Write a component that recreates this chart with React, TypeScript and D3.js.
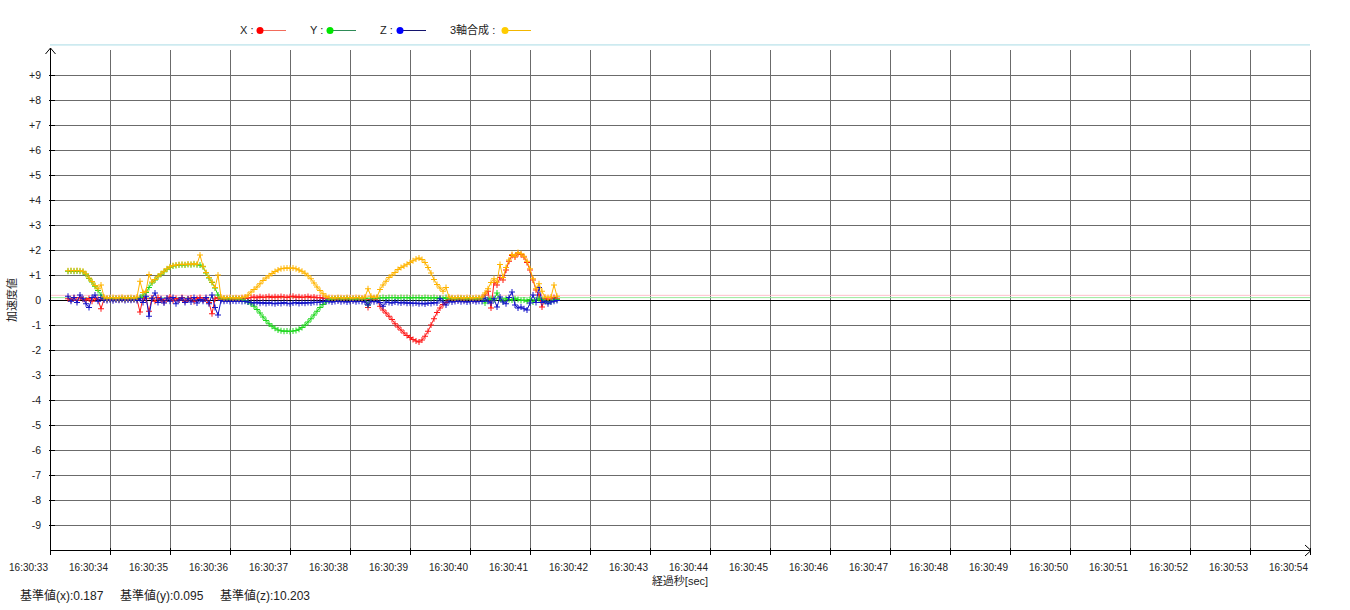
import React from 'react';
import * as d3 from 'd3';

const W = 1350;
const H = 610;

const xTickLabels = ['16:30:33','16:30:34','16:30:35','16:30:36','16:30:37','16:30:38','16:30:39','16:30:40','16:30:41','16:30:42','16:30:43','16:30:44','16:30:45','16:30:46','16:30:47','16:30:48','16:30:49','16:30:50','16:30:51','16:30:52','16:30:53','16:30:54'];
const yTickValues = [-9,-8,-7,-6,-5,-4,-3,-2,-1,0,1,2,3,4,5,6,7,8,9];

const baseValues = [
  { name: 'x', value: 0.187, label: '0.187', color: '#ffc0cb' },
  { name: 'y', value: 0.095, label: '0.095', color: '#9be89b' },
  { name: 'z', value: 10.203, label: '10.203', color: '#a8dbe6' },
];

// samples every 50 ms starting at 16:30:33.300
const sampleStartSec = 33.3;
const sampleStepSec = 0.05;

const xValues = [
  0.05,0.0,0.08,-0.02,0.1,0.03,0.0,0.06,-0.05,0.08,0.02,-0.35,
  0.03,0.02,0.04,0.02,0.03,0.01,0.03,0.02,0.04,0.02,0.03,0.02,
  -0.48,0.1,0.05,-0.45,
  0.08,-0.05,0.1,0.02,-0.08,0.05,0.12,-0.03,0.06,0.0,0.1,-0.05,0.04,0.08,-0.06,0.05,0.1,0.0,
  0.05,-0.1,-0.55,0.05,0.1,
  0.03,0.02,0.04,0.02,0.03,0.05,0.04,0.06,
  0.06,0.08,0.1,0.12,0.09,0.13,0.1,0.12,0.14,0.1,0.13,0.11,0.14,0.12,0.1,0.13,0.15,0.11,0.13,0.1,0.12,0.14,0.1,0.12,0.09,0.1,0.07,0.05,
  0.03,0.02,0.04,0.02,0.03,0.02,0.04,0.03,0.02,0.03,0.04,0.02,0.03,-0.3,0.02,0.03,0.05,
  -0.25,-0.4,-0.52,-0.65,-0.78,-0.95,-1.08,-1.2,-1.32,-1.42,-1.5,-1.58,-1.64,-1.68,-1.6,-1.45,-1.25,-1.0,-0.75,-0.5,-0.32,-0.18,-0.1,
  0.02,0.03,0.01,0.02,0.03,0.01,0.02,0.03,0.02,0.01,0.03,0.05,
  0.2,0.35,-0.32,0.7,0.6,0.9,0.8,1.2,1.55,1.78,1.72,1.85,1.82,1.72,1.5,1.2,0.8,0.4,0.2,
  -0.28,0.05,0.02,0.04,0.1,0.05,
];

const yValues = [
  1.15,1.16,1.15,1.16,1.15,1.13,
  1.03,0.86,0.72,0.55,0.38,0.2,
  0.06,0.05,0.07,0.05,0.06,0.04,0.06,0.05,0.07,0.05,0.06,0.05,
  0.1,0.2,0.3,0.5,
  0.68,0.8,0.93,1.03,1.13,1.23,1.31,1.36,1.38,1.40,1.41,1.40,1.42,1.41,1.43,1.41,1.4,1.33,
  1.08,0.88,0.7,0.48,0.2,
  0.05,0.06,0.04,0.05,0.06,0.05,0.04,0.03,
  -0.02,-0.08,-0.15,-0.25,-0.38,-0.52,-0.68,-0.82,-0.95,-1.05,-1.13,-1.2,-1.23,-1.25,-1.24,-1.26,-1.24,-1.22,-1.17,-1.1,-1.0,-0.88,-0.75,-0.6,-0.45,-0.3,-0.18,-0.08,
  0.02,0.04,0.05,0.06,0.04,0.05,0.06,0.04,0.05,0.03,0.05,0.04,0.06,-0.2,0.05,0.06,0.08,
  0.08,0.1,0.08,0.1,0.09,0.1,0.08,0.1,0.09,0.1,0.08,0.1,0.09,0.1,0.08,0.1,0.09,0.08,0.1,0.07,0.08,0.06,0.1,
  0.05,0.06,0.04,0.05,0.06,0.05,0.04,0.06,0.05,0.04,0.06,0.05,
  -0.12,0.02,0.05,0.0,0.28,0.05,-0.05,0.05,0.02,0.0,0.05,0.02,-0.02,0.0,-0.05,0.02,-0.08,0.0,0.05,
  0.02,-0.05,-0.08,-0.06,0.0,0.02,
];

const zValues = [
  0.15,-0.05,0.1,-0.1,0.2,0.05,-0.15,-0.3,0.1,0.2,-0.05,0.1,
  0.0,-0.02,0.01,-0.03,0.0,-0.01,0.02,-0.02,0.0,-0.01,0.01,-0.02,
  0.05,-0.1,0.15,-0.65,
  0.05,0.28,-0.1,0.05,-0.12,0.08,-0.05,0.1,-0.15,0.0,0.08,-0.1,0.05,-0.08,0.1,-0.12,0.02,-0.05,
  0.1,-0.15,0.2,-0.3,-0.6,
  -0.02,-0.05,-0.03,-0.06,-0.04,-0.05,-0.03,-0.06,
  -0.05,-0.08,-0.1,-0.12,-0.09,-0.13,-0.1,-0.14,-0.11,-0.13,-0.15,-0.12,-0.14,-0.1,-0.13,-0.15,-0.12,-0.1,-0.14,-0.11,-0.13,-0.1,-0.12,-0.09,-0.1,-0.08,-0.06,-0.05,
  -0.05,-0.08,-0.06,-0.04,-0.07,-0.05,-0.08,-0.06,-0.04,-0.07,-0.05,-0.06,-0.08,-0.2,-0.05,-0.07,-0.05,
  -0.1,-0.25,-0.08,-0.1,-0.12,-0.08,-0.1,-0.12,-0.09,-0.13,-0.11,-0.14,-0.12,-0.15,-0.13,-0.16,-0.12,-0.14,-0.1,-0.12,0.05,-0.08,-0.2,
  -0.05,-0.08,-0.06,-0.04,-0.07,-0.05,-0.08,-0.06,-0.04,-0.07,-0.05,-0.06,
  0.08,-0.05,-0.12,0.05,-0.28,0.12,-0.08,-0.15,0.1,0.32,-0.2,-0.32,-0.28,-0.35,-0.4,-0.12,0.2,-0.1,0.5,
  -0.1,-0.05,-0.15,-0.08,-0.05,-0.02,
];

const sumValues = [
  1.17,1.18,1.17,1.18,1.17,1.15,
  1.05,0.88,0.74,0.58,0.45,0.6,
  0.12,0.08,0.09,0.10,0.08,0.09,0.11,0.08,0.09,0.10,0.08,0.12,
  0.75,0.3,0.35,1.02,
  0.72,0.82,0.95,1.05,1.15,1.25,1.33,1.38,1.40,1.42,1.43,1.42,1.44,1.43,1.45,1.43,1.8,1.35,
  1.1,0.9,0.72,0.5,1.0,
  0.12,0.08,0.09,0.10,0.08,0.09,0.08,0.10,
  0.12,0.2,0.32,0.42,0.52,0.65,0.78,0.88,0.97,1.06,1.14,1.2,1.25,1.27,1.28,1.27,1.28,1.25,1.2,1.15,1.07,0.97,0.85,0.68,0.52,0.38,0.25,0.15,
  0.10,0.09,0.08,0.10,0.09,0.08,0.10,0.09,0.08,0.10,0.09,0.08,0.12,0.45,0.15,0.10,0.12,
  0.42,0.6,0.75,0.9,1.0,1.1,1.22,1.3,1.36,1.43,1.5,1.57,1.64,1.68,1.62,1.5,1.3,1.08,0.82,0.62,0.48,0.35,0.5,
  0.12,0.09,0.08,0.10,0.09,0.08,0.10,0.09,0.08,0.10,0.09,0.12,
  0.28,0.45,0.7,0.85,0.72,1.42,0.9,1.3,1.6,1.82,1.75,1.9,1.85,1.75,1.55,1.25,0.85,0.45,0.65,
  0.35,0.12,0.1,0.12,0.6,0.15,
];

const series = [
  { name: 'X', values: xValues, color: '#ff1a1a', legendLine: '#f26b5b', legendDot: '#ff0000', labelX: 240, dotX: 260 },
  { name: 'Y', values: yValues, color: '#1fd81f', legendLine: '#2e8b57', legendDot: '#00e600', labelX: 310, dotX: 330 },
  { name: 'Z', values: zValues, color: '#1414c8', legendLine: '#14146e', legendDot: '#0000ff', labelX: 380, dotX: 400 },
  { name: '3軸合成', values: sumValues, color: '#ffb400', legendLine: '#f2b600', legendDot: '#ffcc00', labelX: 450, dotX: 505 },
];

const FONT = '"Liberation Sans", Arial, "Noto Sans CJK JP", sans-serif';

export default function App() {
  const left = 50, right = 1310, top = 50, bottom = 550;
  const x = d3.scaleLinear().domain([33, 54]).range([left, right]);
  const y = d3.scaleLinear().domain([-10, 10]).range([bottom, top]);
  const xTicks = d3.range(xTickLabels.length).map((i) => 33 + i);

  const line = d3.line<number>()
    .x((_, i) => x(sampleStartSec + i * sampleStepSec))
    .y((d) => y(d));

  const crossPath = (vals: number[]) => {
    const p = d3.path();
    vals.forEach((v, i) => {
      const px = x(sampleStartSec + i * sampleStepSec);
      const py = y(v);
      p.moveTo(px - 3, py);
      p.lineTo(px + 3, py);
      p.moveTo(px, py - 3);
      p.lineTo(px, py + 3);
    });
    return p.toString();
  };

  return (
    <svg width={W} height={H} style={{ position: 'absolute', left: 0, top: 0, background: '#fff' }} fontFamily={FONT}>
      <rect x={0} y={0} width={W} height={H} fill="#fff" />
      {/* legend */}
      {series.map((s) => (
        <g key={s.name}>
          <text x={s.labelX} y={33.5} fontSize={11} fill="#222">{s.name} :</text>
          <line x1={s.dotX} x2={s.dotX + 26} y1={30.5} y2={30.5} stroke={s.legendLine} strokeWidth={1} />
          <circle cx={s.dotX} cy={30.5} r={3.5} fill={s.legendDot} />
        </g>
      ))}
      {/* vertical grid */}
      {xTicks.slice(1).map((t) => (
        <line key={'vg' + t} x1={x(t) + 0.5} x2={x(t) + 0.5} y1={top} y2={bottom} stroke="#6b6b6b" strokeWidth={1} />
      ))}
      {/* horizontal grid */}
      {yTickValues.map((v) => (
        <line key={'hg' + v} x1={left} x2={right} y1={y(v) + 0.5} y2={y(v) + 0.5} stroke={v === 0 ? '#000' : '#6b6b6b'} strokeWidth={1} />
      ))}
      {/* base value reference lines */}
      {baseValues.map((b) => (
        <line key={'b' + b.name} x1={left} x2={right} y1={y(b.value)} y2={y(b.value)} stroke={b.color} strokeWidth={1} />
      ))}
      {/* axes */}
      <line x1={left + 0.5} x2={left + 0.5} y1={top - 2} y2={bottom} stroke="#000" strokeWidth={1} />
      <path d={`M${left - 4.5},${top + 4} L${left + 0.5},${top - 2} L${left + 5.5},${top + 4}`} fill="none" stroke="#000" strokeWidth={1} />
      <line x1={left} x2={right + 1} y1={bottom + 0.5} y2={bottom + 0.5} stroke="#000" strokeWidth={1} />
      <path d={`M${right - 5},${bottom - 5} L${right + 1},${bottom + 0.5} L${right - 5},${bottom + 6}`} fill="none" stroke="#000" strokeWidth={1} />
      {yTickValues.map((v) => (
        <g key={'yt' + v}>
          <line x1={left - 1} x2={left + 5} y1={y(v) + 0.5} y2={y(v) + 0.5} stroke="#000" strokeWidth={1} />
          <text x={41} y={y(v) + 4} fontSize={10.5} textAnchor="end" fill="#222">{v > 0 ? '+' + v : String(v)}</text>
        </g>
      ))}
      {xTicks.map((t, i) => (
        <g key={'xt' + t}>
          <line x1={x(t) + 0.5} x2={x(t) + 0.5} y1={bottom - 2} y2={bottom + 5} stroke="#000" strokeWidth={1} />
          <text x={x(t) - 2} y={571} fontSize={10} textAnchor="end" fill="#222">{xTickLabels[i]}</text>
        </g>
      ))}
      <text x={(left + right) / 2} y={585} fontSize={11} textAnchor="middle" fill="#222">経過秒[sec]</text>
      <text transform={`translate(16,${y(0)}) rotate(-90)`} fontSize={11} textAnchor="middle" fill="#222">加速度値</text>
      {/* data */}
      {series.map((s) => (
        <g key={'s' + s.name}>
          <path d={line(s.values) || ''} fill="none" stroke={s.color} strokeWidth={1} />
          <path d={crossPath(s.values)} fill="none" stroke={s.color} strokeWidth={1} />
        </g>
      ))}
      {/* base values footer */}
      {baseValues.map((b, i) => (
        <text key={'f' + b.name} x={20 + i * 100} y={600} fontSize={12} fill="#222">{`基準値(${b.name}):${b.label}`}</text>
      ))}
    </svg>
  );
}
